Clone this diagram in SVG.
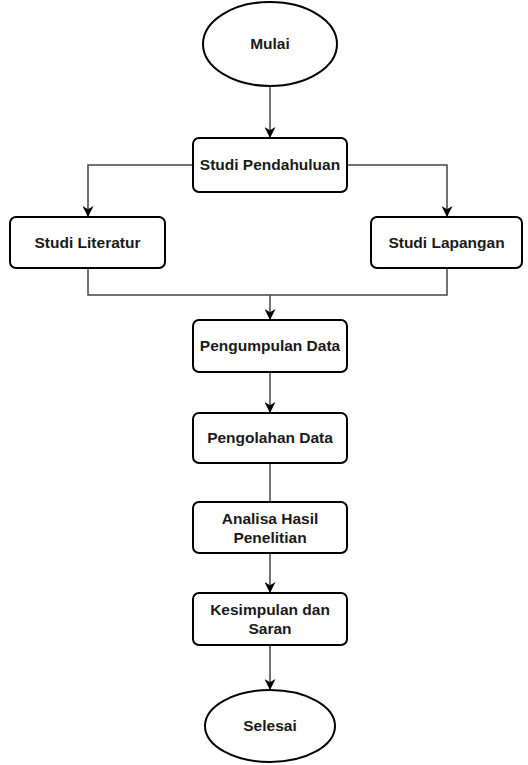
<svg xmlns="http://www.w3.org/2000/svg" width="528" height="765" viewBox="0 0 528 765">
<style>
.n{fill:#fff;stroke:#000;stroke-width:2}
.t{font-family:"Liberation Sans",Arial,sans-serif;font-weight:bold;font-size:15.5px;fill:#1a1a1a;text-anchor:middle}
.c{fill:none;stroke:#444;stroke-width:1.5}
</style>
<defs>
<marker id="a" viewBox="0 0 10 10" refX="10" refY="5" markerWidth="11" markerHeight="11" markerUnits="userSpaceOnUse" orient="auto">
<path d="M0,0 L10,5 L0,10 L3,5 Z" fill="#000"/>
</marker>
</defs>
<rect width="528" height="765" fill="#fff"/>
<g id="connectors">
<path class="c" d="M270,87 V138" marker-end="url(#a)"/>
<path class="c" d="M193,165 H88 V217" marker-end="url(#a)"/>
<path class="c" d="M347,165 H447 V217" marker-end="url(#a)"/>
<path class="c" d="M88,268 V295 H447 V268"/>
<path class="c" d="M270,295 V320" marker-end="url(#a)"/>
<path class="c" d="M270,372 V413" marker-end="url(#a)"/>
<path class="c" d="M270,463 V502"/>
<path class="c" d="M270,553 V593" marker-end="url(#a)"/>
<path class="c" d="M270,645 V690" marker-end="url(#a)"/>
</g>
<g id="mulai"><ellipse class="n" cx="270" cy="44" rx="67" ry="42"/><text class="t" x="270" y="49">Mulai</text></g>
<g id="studi-pendahuluan"><rect class="n" x="193" y="138" width="154" height="54" rx="6"/><text class="t" x="270" y="170">Studi Pendahuluan</text></g>
<g id="studi-literatur"><rect class="n" x="10" y="217" width="155" height="51" rx="6"/><text class="t" x="87.5" y="248">Studi Literatur</text></g>
<g id="studi-lapangan"><rect class="n" x="371" y="217" width="151" height="51" rx="6"/><text class="t" x="446.5" y="248">Studi Lapangan</text></g>
<g id="pengumpulan-data"><rect class="n" x="193" y="320" width="154" height="52" rx="6"/><text class="t" x="270" y="351">Pengumpulan Data</text></g>
<g id="pengolahan-data"><rect class="n" x="193" y="413" width="154" height="50" rx="6"/><text class="t" x="270" y="443">Pengolahan Data</text></g>
<g id="analisa"><rect class="n" x="193" y="502" width="154" height="51" rx="6"/><text class="t" x="270" y="524">Analisa Hasil</text><text class="t" x="270" y="543">Penelitian</text></g>
<g id="kesimpulan"><rect class="n" x="193" y="593" width="154" height="52" rx="6"/><text class="t" x="270" y="615">Kesimpulan dan</text><text class="t" x="270" y="634">Saran</text></g>
<g id="selesai"><ellipse class="n" cx="270" cy="726" rx="65" ry="36"/><text class="t" x="270" y="731">Selesai</text></g>
</svg>
